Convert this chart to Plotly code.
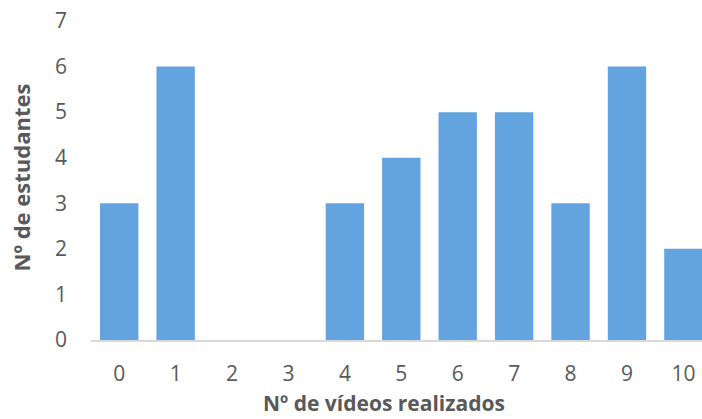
import plotly.graph_objects as go

# Number of videos made by each student and how many students made that many
videos = [0, 1, 2, 3, 4, 5, 6, 7, 8, 9, 10]
students = [3, 6, 0, 0, 3, 4, 5, 5, 3, 6, 2]
y_ticks = [0, 1, 2, 3, 4, 5, 6, 7]

x_title = "Nº de vídeos realizados"
y_title = "Nº de estudantes"

bar_color = "#62a3e0"
text_color = "#595959"
font_family = "Open Sans, Segoe UI, Liberation Sans, sans-serif"

fig = go.Figure(
    go.Bar(
        x=videos,
        y=students,
        marker=dict(color=bar_color, line=dict(width=0)),
    )
)

fig.update_layout(
    width=702,
    height=419,
    margin=dict(l=91, r=0, t=21, b=79),
    plot_bgcolor="white",
    paper_bgcolor="white",
    bargap=0.32,
    showlegend=False,
    font=dict(family=font_family, color=text_color, size=21),
    xaxis=dict(
        tickmode="array",
        tickvals=videos,
        ticktext=[str(v) for v in videos],
        range=[-0.5, 10.33],
        showgrid=False,
        zeroline=False,
        showline=True,
        linecolor="#d9d9d9",
        linewidth=1.5,
        ticks="",
        ticklabelstandoff=14,
        tickfont=dict(size=21, color=text_color),
    ),
    yaxis=dict(
        tickmode="array",
        tickvals=y_ticks,
        range=[0, 7],
        showgrid=False,
        zeroline=False,
        showline=False,
        ticks="",
        ticklabelstandoff=23,
        tickfont=dict(size=21, color=text_color),
    ),
    annotations=[
        dict(
            text=f"<b>{x_title}</b>",
            xref="paper", yref="paper",
            x=(384 - 91) / 611, y=0,
            xanchor="center", yanchor="middle",
            yshift=-63,
            showarrow=False,
            font=dict(size=21, color=text_color, family=font_family),
        ),
        dict(
            text=f"<b>{y_title}</b>",
            xref="paper", yref="paper",
            x=0, y=0.5,
            xanchor="center", yanchor="middle",
            xshift=-71, yshift=3,
            textangle=-90,
            showarrow=False,
            font=dict(size=22, color=text_color, family=font_family),
        ),
    ],
)

fig.write_html("out.html")
